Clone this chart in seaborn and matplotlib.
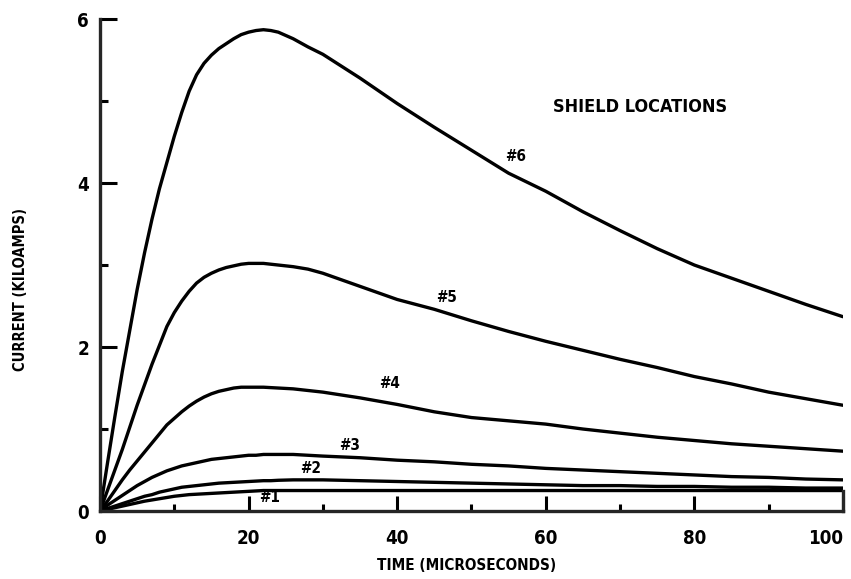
import seaborn as sns
import matplotlib.pyplot as plt
from matplotlib.ticker import MultipleLocator
import pandas as pd

# time axis (microseconds)
time_us = [0, 1, 2, 3, 4, 5, 6, 7, 8, 9, 10, 11, 12, 13, 14, 15, 16, 17, 18, 19, 20,
           21, 22, 23, 24, 26, 28, 30, 35, 40, 45, 50, 55, 60, 65, 70, 75, 80, 85, 90, 95, 100]

# current (kiloamps) for each shield location
loc1 = [0, 0.02, 0.04, 0.06, 0.08, 0.10, 0.12, 0.135, 0.15, 0.165, 0.18, 0.19, 0.20, 0.205, 0.21,
        0.215, 0.22, 0.225, 0.23, 0.235, 0.24, 0.245, 0.25, 0.25, 0.25, 0.25, 0.25, 0.25,
        0.25, 0.25, 0.25, 0.25, 0.25, 0.25, 0.25, 0.25, 0.25, 0.25, 0.25, 0.25, 0.25, 0.25]
loc2 = [0, 0.03, 0.06, 0.09, 0.12, 0.15, 0.18, 0.20, 0.23, 0.25, 0.27, 0.29, 0.30, 0.31, 0.32,
        0.33, 0.34, 0.345, 0.35, 0.355, 0.36, 0.365, 0.37, 0.37, 0.375, 0.38, 0.38, 0.38,
        0.37, 0.36, 0.35, 0.34, 0.33, 0.32, 0.31, 0.31, 0.30, 0.30, 0.29, 0.29, 0.28, 0.28]
loc3 = [0, 0.07, 0.13, 0.19, 0.25, 0.31, 0.36, 0.41, 0.45, 0.49, 0.52, 0.55, 0.57, 0.59, 0.61,
        0.63, 0.64, 0.65, 0.66, 0.67, 0.68, 0.68, 0.69, 0.69, 0.69, 0.69, 0.68, 0.67,
        0.65, 0.62, 0.60, 0.57, 0.55, 0.52, 0.50, 0.48, 0.46, 0.44, 0.42, 0.41, 0.39, 0.38]
loc4 = [0, 0.12, 0.25, 0.38, 0.50, 0.61, 0.72, 0.83, 0.94, 1.05, 1.13, 1.21, 1.28, 1.34, 1.39,
        1.43, 1.46, 1.48, 1.50, 1.51, 1.51, 1.51, 1.51, 1.505, 1.50, 1.49, 1.47, 1.45,
        1.38, 1.30, 1.21, 1.14, 1.10, 1.06, 1.00, 0.95, 0.90, 0.86, 0.82, 0.79, 0.76, 0.73]
loc5 = [0, 0.25, 0.50, 0.75, 1.02, 1.29, 1.54, 1.79, 2.02, 2.25, 2.42, 2.56, 2.68, 2.78, 2.85,
        2.90, 2.94, 2.97, 2.99, 3.01, 3.02, 3.02, 3.02, 3.01, 3.00, 2.98, 2.95, 2.90,
        2.74, 2.58, 2.46, 2.32, 2.19, 2.07, 1.96, 1.85, 1.75, 1.64, 1.55, 1.45, 1.37, 1.29]
loc6 = [0, 0.58, 1.15, 1.70, 2.20, 2.70, 3.15, 3.56, 3.93, 4.25, 4.57, 4.86, 5.12, 5.32, 5.46,
        5.56, 5.64, 5.70, 5.76, 5.81, 5.84, 5.86, 5.87, 5.86, 5.84, 5.76, 5.66, 5.57,
        5.28, 4.97, 4.68, 4.40, 4.12, 3.90, 3.65, 3.42, 3.20, 3.00, 2.84, 2.68, 2.52, 2.37]

series_names = ["#1", "#2", "#3", "#4", "#5", "#6"]
series_vals = [loc1, loc2, loc3, loc4, loc5, loc6]
# where the curve labels sit (time, current)
label_x = [22.9, 28.3, 33.6, 39.0, 46.7, 55.9]
label_y = [0.17, 0.52, 0.80, 1.55, 2.61, 4.32]

x_ticks = [0, 20, 40, 60, 80, 100]
y_ticks = [0, 2, 4, 6]

df = pd.concat([pd.DataFrame({"time": time_us, "current": v, "loc": n})
                for n, v in zip(series_names, series_vals)])

sns.set_theme(style="ticks")
plt.rcParams['font.family'] = ['DejaVu Sans']
plt.rcParams['font.stretch'] = 'condensed'
plt.rcParams['font.weight'] = 'bold'
plt.rcParams['text.color'] = 'black'
plt.rcParams['axes.labelcolor'] = 'black'
plt.rcParams['xtick.color'] = 'black'
plt.rcParams['ytick.color'] = 'black'

fig = plt.figure(figsize=(8.51, 5.79), dpi=100)
ax = fig.add_axes([0.1175, 0.1174, 0.873, 0.8497])

sns.lineplot(data=df, x="time", y="current", hue="loc",
             palette=["black"] * 6, linewidth=2.4, legend=False, ax=ax)

for n, x, y in zip(series_names, label_x, label_y):
    ax.text(x, y, n, ha="center", va="center", fontsize=11, fontweight="bold")
ax.text(72.7, 4.93, "SHIELD LOCATIONS", ha="center", va="center",
        fontsize=13, fontweight="bold")

ax.set_xlim(0, 100)
ax.set_ylim(0, 6)
ax.set_xticks(x_ticks)
ax.set_xticklabels([str(t) for t in x_ticks])
ax.set_yticks(y_ticks)
ax.set_yticklabels([str(t) for t in y_ticks])
ax.xaxis.set_minor_locator(MultipleLocator(10))
ax.yaxis.set_minor_locator(MultipleLocator(1))
ax.tick_params(which="both", direction="in", width=2.2, labelsize=13.5)
ax.tick_params(axis="x", which="major", length=11, pad=13)
ax.tick_params(axis="x", which="minor", length=5)
ax.tick_params(axis="y", which="major", length=12.5, pad=8)
ax.tick_params(axis="y", which="minor", length=6)
ax.xaxis.get_major_ticks()[-1].label1.set_horizontalalignment("right")

ax.spines["top"].set_visible(False)
for s in ["left", "bottom", "right"]:
    ax.spines[s].set_linewidth(2.4)
ax.spines["right"].set_bounds(0, 0.25)

ax.set_xlabel("TIME (MICROSECONDS)", fontsize=11, fontweight="bold")
ax.xaxis.set_label_coords(0.493, -0.096)
ax.set_ylabel("CURRENT (KILOAMPS)", fontsize=10.5, fontweight="bold")
ax.yaxis.set_label_coords(-0.097, 0.45)
ax.grid(False)

fig.savefig("out.png", dpi=100)
